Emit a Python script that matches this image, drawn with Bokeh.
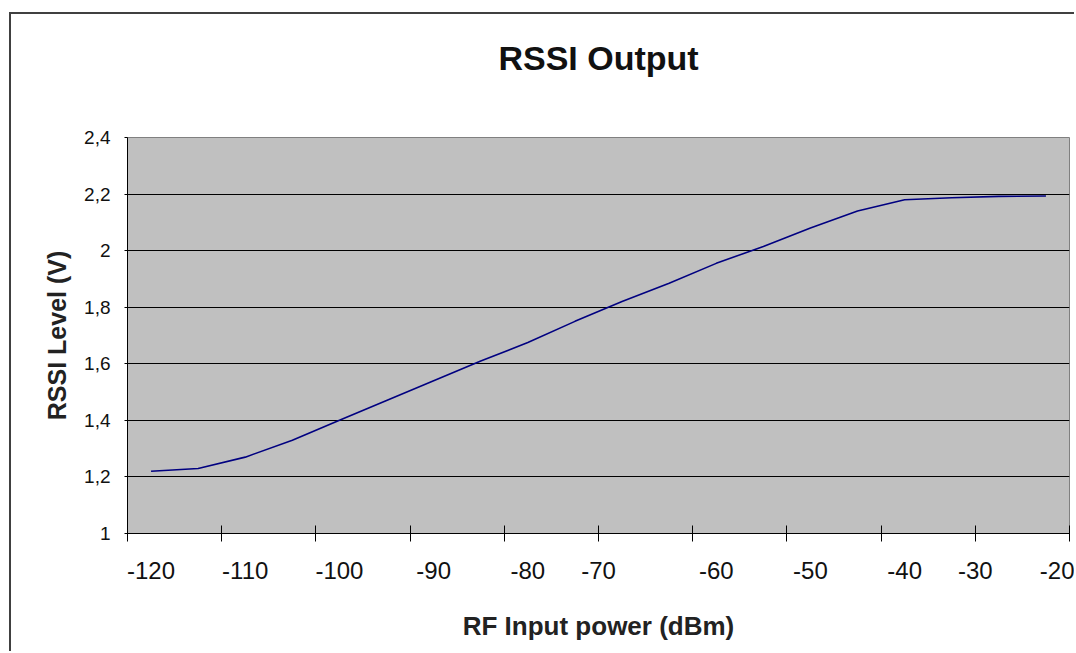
from bokeh.plotting import figure
from bokeh.models import FixedTicker, Range1d, Title
from bokeh.embed import file_html
from bokeh.resources import INLINE

# Data
rf_input_dbm = [-117.5, -112.5, -107.5, -102.5, -97.5, -92.5, -87.5, -82.5, -77.5, -72.5,
                -67.5, -62.5, -57.5, -52.5, -47.5, -42.5, -37.5, -32.5, -27.5, -22.5]
rssi_level_v = [1.22, 1.23, 1.27, 1.33, 1.40, 1.47, 1.54, 1.61, 1.675, 1.75,
                1.82, 1.885, 1.955, 2.015, 2.08, 2.14, 2.18, 2.187, 2.192, 2.193]

x_tick_marks = [-120, -110, -100, -90, -80, -70, -60, -50, -40, -30, -20]
x_label_pos = [-117.5, -107.5, -97.5, -87.5, -77.5, -70, -57.5, -47.5, -37.5, -30, -21]
x_label_text = ["-120", "-110", "-100", "-90", "-80", "-70", "-60", "-50", "-40", "-30", "-20"]

y_ticks = [1.0, 1.2, 1.4, 1.6, 1.8, 2.0, 2.2, 2.4]
y_tick_text = ["1", "1,2", "1,4", "1,6", "1,8", "2", "2,2", "2,4"]

FONT = "Liberation Sans"

p = figure(width=1065, height=639, output_backend="svg", toolbar_location=None,
           x_range=Range1d(-120, -20), y_range=Range1d(1.0, 2.4),
           min_border_left=116, min_border_right=7, min_border_top=10, min_border_bottom=120,
           background_fill_color="#C0C0C0", border_fill_color="white",
           title="RSSI Output")

p.styles = {"border-left": "2px solid #404040", "border-top": "2px solid #404040",
            "margin-left": "9px", "margin-top": "12px"}

# spacer between title and plot area (nearest the frame)
p.add_layout(Title(text=" ", text_font_size="1px", standoff=36), "above")

p.title.align = "center"
p.title.text_font = FONT
p.title.text_font_size = "34px"
p.title.text_font_style = "bold"
p.title.text_color = "#111111"
p.title.standoff = 44

p.outline_line_color = "#808080"
p.outline_line_width = 1

p.line(rf_input_dbm, rssi_level_v, line_color="#000080", line_width=1.6)

# X axis
xa = p.xaxis[0]
xa.ticker = FixedTicker(ticks=x_label_pos, minor_ticks=x_tick_marks)
xa.major_label_overrides = {v: t for v, t in zip(x_label_pos, x_label_text)}
xa.major_tick_line_color = None
xa.major_tick_in = 0
xa.major_tick_out = 0
xa.minor_tick_line_color = "black"
xa.minor_tick_in = 8
xa.minor_tick_out = 8
xa.axis_line_color = "black"
xa.major_label_text_font = FONT
xa.major_label_text_font_size = "24px"
xa.major_label_text_color = "#111111"
xa.major_label_standoff = 20
xa.axis_label = "RF Input power (dBm)"
xa.axis_label_text_font = FONT
xa.axis_label_text_font_size = "26px"
xa.axis_label_text_font_style = "bold"
xa.axis_label_text_color = "#222222"
xa.axis_label_standoff = 29

# Y axis
ya = p.yaxis[0]
ya.ticker = FixedTicker(ticks=y_ticks)
ya.major_label_overrides = {v: t for v, t in zip(y_ticks, y_tick_text)}
ya.major_tick_line_color = "black"
ya.major_tick_in = 0
ya.major_tick_out = 3
ya.minor_tick_line_color = None
ya.axis_line_color = "black"
ya.major_label_text_font = FONT
ya.major_label_text_font_size = "19px"
ya.major_label_text_color = "#111111"
ya.major_label_standoff = 14
ya.axis_label = "RSSI Level (V)"
ya.axis_label_text_font = FONT
ya.axis_label_text_font_size = "25px"
ya.axis_label_text_font_style = "bold"
ya.axis_label_text_color = "#222222"
ya.axis_label_standoff = 10

p.xgrid.grid_line_color = None
p.ygrid.ticker = FixedTicker(ticks=y_ticks)
p.ygrid.grid_line_color = "black"
p.ygrid.grid_line_width = 1

open("out.html", "w").write(file_html(p, INLINE))
